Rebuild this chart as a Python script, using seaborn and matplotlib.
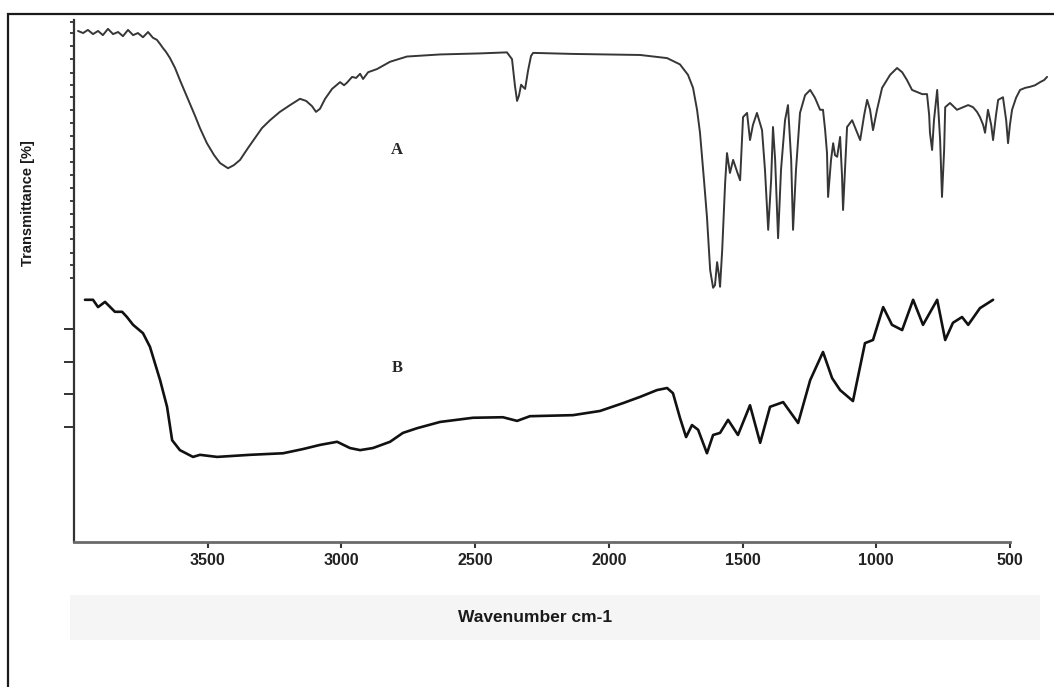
import matplotlib
matplotlib.use("Agg")
import matplotlib.pyplot as plt
from matplotlib.patches import Rectangle
import seaborn as sns
import pandas as pd

# ---- data ----
wn_A = [3985, 3966, 3948, 3929, 3910, 3892, 3873, 3854, 3835, 3817, 3798, 3779, 3761, 3742, 3723, 3705,
        3690, 3678, 3667, 3656, 3641, 3622, 3604, 3585, 3566, 3547, 3529, 3503, 3476, 3454, 3424, 3402,
        3379, 3349, 3323, 3297, 3267, 3230, 3192, 3155, 3132, 3110, 3095, 3080, 3061, 3035, 3005, 2990,
        2979, 2960, 2945, 2930, 2919, 2900, 2867, 2818, 2755, 2631, 2482, 2381, 2362, 2351, 2343, 2336,
        2328, 2321, 2313, 2302, 2291, 2283, 2134, 1883, 1782, 1734, 1704, 1685, 1670, 1659, 1644, 1633,
        1621, 1610, 1603, 1595, 1588, 1584, 1576, 1565, 1558, 1547, 1535, 1520, 1509, 1498, 1483, 1472,
        1461, 1446, 1427, 1416, 1404, 1393, 1386, 1378, 1367, 1356, 1341, 1330, 1318, 1311, 1300, 1285,
        1266, 1247, 1229, 1210, 1199, 1191, 1184, 1180, 1169, 1161, 1154, 1146, 1135, 1128, 1124, 1116,
        1109, 1090, 1075, 1060, 1045, 1034, 1023, 1012, 997, 978, 948, 922, 903, 885, 866, 847,
        828, 810, 802, 799, 791, 784, 772, 761, 754, 746, 742, 724, 698, 675, 656, 638,
        623, 612, 600, 593, 582, 570, 563, 552, 544, 526, 514, 507, 500, 492, 477, 462,
        443, 425, 406, 387, 372, 361]
T_A = [97.9, 97.5, 98.1, 97.3, 97.9, 97.1, 98.3, 97.3, 97.7, 96.9, 98.1, 97.1, 97.5, 96.7, 97.7, 96.6,
       96.2, 95.4, 94.6, 93.9, 92.7, 90.8, 88.5, 86.2, 83.9, 81.6, 79.3, 76.4, 74.1, 72.6, 71.6, 72.2,
       73.2, 75.5, 77.4, 79.3, 80.8, 82.4, 83.7, 84.9, 84.5, 83.5, 82.4, 83.0, 84.9, 86.8, 88.1, 87.5,
       88.0, 89.1, 88.9, 89.7, 88.7, 90.0, 90.6, 92.0, 93.0, 93.4, 93.6, 93.8, 92.5, 87.4, 84.5, 85.5,
       87.6, 87.2, 86.8, 90.3, 93.1, 93.7, 93.5, 93.3, 92.7, 91.5, 89.5, 87.0, 82.8, 78.4, 69.3, 62.3,
       52.1, 48.7, 49.2, 53.6, 51.1, 48.9, 55.9, 68.8, 74.5, 70.7, 73.2, 70.9, 69.3, 81.4, 82.2, 77.0,
       79.9, 82.2, 78.9, 71.3, 59.8, 69.3, 79.5, 73.2, 58.2, 71.3, 80.8, 83.7, 73.2, 59.8, 71.3, 82.2,
       85.6, 86.6, 85.1, 82.8, 82.8, 78.9, 74.5, 66.1, 73.2, 76.4, 74.1, 73.8, 77.6, 70.3, 63.6, 72.2,
       79.5, 80.8, 78.9, 77.0, 81.8, 84.7, 82.8, 78.9, 82.8, 87.0, 89.5, 90.8, 90.0, 88.5, 86.6, 86.2,
       85.8, 85.8, 81.8, 78.4, 75.1, 80.8, 86.6, 77.0, 66.1, 75.1, 83.3, 84.1, 82.8, 83.3, 83.7, 83.3,
       82.4, 81.4, 79.9, 78.4, 82.8, 79.9, 77.0, 81.8, 84.7, 85.2, 80.8, 76.4, 79.9, 82.8, 85.1, 86.6,
       87.0, 87.2, 87.5, 88.1, 88.5, 89.1]

wn_B = [3959, 3929, 3910, 3884, 3847, 3820, 3802, 3779, 3742, 3716, 3678, 3652, 3633, 3604, 3555, 3529,
        3465, 3342, 3218, 3144, 3080, 3016, 2968, 2930, 2882, 2818, 2770, 2717, 2631, 2508, 2396, 2343,
        2295, 2134, 2033, 1947, 1883, 1820, 1782, 1760, 1734, 1711, 1689, 1666, 1633, 1610, 1584, 1554,
        1517, 1472, 1434, 1397, 1348, 1292, 1247, 1199, 1165, 1135, 1087, 1042, 1012, 974, 941, 903,
        862, 825, 772, 742, 713, 679, 656, 612, 563]
T_B = [46.4, 46.4, 45.0, 46.0, 44.1, 44.1, 43.1, 41.6, 40.0, 37.4, 31.0, 25.9, 19.5, 17.6, 16.3, 16.7,
       16.3, 16.7, 17.0, 17.8, 18.6, 19.2, 18.0, 17.6, 18.0, 19.2, 20.9, 21.8, 23.0, 23.8, 23.9, 23.2,
       24.1, 24.3, 25.1, 26.6, 27.8, 29.1, 29.5, 28.5, 23.8, 20.1, 22.4, 21.5, 17.0, 20.5, 20.9, 23.4,
       20.5, 26.2, 19.0, 25.9, 26.8, 22.8, 31.0, 36.4, 31.4, 29.1, 27.0, 38.1, 38.7, 45.0, 41.6, 40.6,
       46.4, 41.6, 46.4, 38.7, 42.0, 43.1, 41.6, 44.8, 46.4]

x_ticks = [3500, 3000, 2500, 2000, 1500, 1000, 500]
x_tick_labels = ["3500", "3000", "2500", "2000", "1500", "1000", "500"]
y_ticks_lower = [40.8, 34.5, 28.4, 22.0]
y_ticks_upper = [99.7, 97.6, 95.0, 92.5, 89.9, 87.5, 85.2, 82.8, 80.3, 77.8, 75.3, 72.8, 70.3,
                 67.8, 65.3, 62.8, 60.3, 58.0, 55.4, 53.1, 50.6]

df_A = pd.DataFrame({"wn": wn_A, "T": T_A})
df_B = pd.DataFrame({"wn": wn_B, "T": T_B})

# ---- styling ----
sns.set_style("ticks")
plt.rcParams["font.family"] = ["Liberation Sans", "DejaVu Sans"]

W, H = 1054, 687
fig = plt.figure(figsize=(W / 100, H / 100), dpi=100)
fig.patch.set_facecolor("white")

# faint band behind x label
fig.patches.append(Rectangle((70 / W, 1 - 640 / H), 970 / W, 45 / H, transform=fig.transFigure,
                             facecolor="#f5f5f5", edgecolor="none", zorder=0))
# outer frame
fig.patches.append(Rectangle((8 / W, -0.05), 1.2, 1.05 - 14 / H, transform=fig.transFigure,
                             facecolor="none", edgecolor="#1a1a1a", linewidth=1.6, zorder=5))

ax = fig.add_axes([74 / W, 1 - 542 / H, 978.7 / W, 522 / H])
ax.set_facecolor("none")

sns.lineplot(data=df_A, x="wn", y="T", sort=False, estimator=None, ax=ax,
             color="#363636", linewidth=1.4, solid_joinstyle="round")
sns.lineplot(data=df_B, x="wn", y="T", sort=False, estimator=None, ax=ax,
             color="#111111", linewidth=1.9, solid_joinstyle="round", solid_capstyle="round")

ax.set_xlim(4000, 340)
ax.set_ylim(0, 100)

ax.spines["top"].set_visible(False)
ax.spines["right"].set_visible(False)
ax.spines["bottom"].set_bounds(500, 4000)
ax.spines["bottom"].set_color("#6a6a6a")
ax.spines["bottom"].set_linewidth(2.0)
ax.spines["left"].set_color("#333333")
ax.spines["left"].set_linewidth(1.6)

ax.set_xticks(x_ticks)
ax.set_xticklabels(x_tick_labels, fontweight="bold", fontsize=11.5, color="#222222")
ax.tick_params(axis="x", direction="out", length=4, width=1.5, color="#333333", pad=4)

ax.set_yticks(y_ticks_lower)
ax.set_yticks(y_ticks_upper, minor=True)
ax.set_yticklabels([])
ax.tick_params(axis="y", which="major", direction="out", length=7, width=1.3, color="#222222")
ax.tick_params(axis="y", which="minor", direction="out", length=3, width=1.3, color="#333333")

ax.set_xlabel("")
ax.set_ylabel("")

ax.text(2792, 75.1, "A", fontsize=12, fontweight="bold", family=["Liberation Serif", "DejaVu Serif"],
        ha="center", va="center")
ax.text(2792, 33.3, "B", fontsize=12, fontweight="bold", family=["Liberation Serif", "DejaVu Serif"],
        ha="center", va="center")

fig.text(535 / W, 1 - 618 / H, "Wavenumber cm-1", fontsize=12.5, fontweight="bold",
         ha="center", va="center", color="#1a1a1a")
fig.text(28 / W, 1 - 203 / H, "Transmittance [%]", fontsize=10.5, fontweight="bold",
         family=["Liberation Sans Narrow", "Liberation Sans", "DejaVu Sans"],
         rotation=90, ha="center", va="center", color="#1a1a1a")

fig.savefig("out.png", dpi=100, facecolor="white")
